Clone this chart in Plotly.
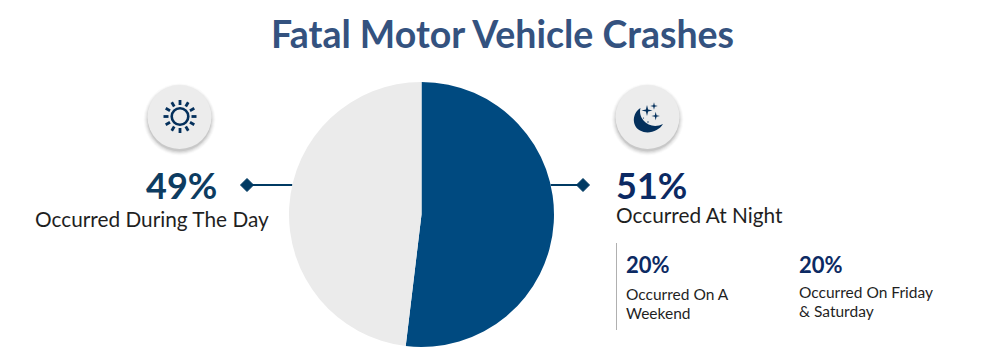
import math
import plotly.graph_objects as go

W, H = 1004, 358
FONT = "Lato"
TITLE = "Fatal Motor Vehicle Crashes"

# Pie values
slice_names = ["Night", "Day"]
slice_values = [51.9, 48.1]
slice_colors = ["#004a80", "#ebebeb"]

NAVY = "#003a63"
GLYPH = "#04305c"
INK = "#1f1f1f"

# text, x, y, size, bold, colour, anchor
labels = [
    (TITLE, 502, 33, 37.5, True, "#34527f", "center"),
    ("49%", 181, 185, 36, True, "#0d3c61", "center"),
    ("Occurred During The Day", 152, 218, 20.8, False, INK, "center"),
    ("51%", 615, 185, 36, True, "#0c2a63", "left"),
    ("Occurred At Night", 615, 214, 20.8, False, INK, "left"),
    ("20%", 625, 264, 22, True, "#0c2a63", "left"),
    ("Occurred On A", 625, 294, 15.5, False, INK, "left"),
    ("Weekend", 625, 313, 15.5, False, INK, "left"),
    ("20%", 798, 264, 22, True, "#0c2a63", "left"),
    ("Occurred On Friday", 798, 292, 15.5, False, INK, "left"),
    ("& Saturday", 798, 311, 15.5, False, INK, "left"),
]

fig = go.Figure()

fig.add_trace(go.Pie(
    labels=slice_names, values=slice_values, sort=False, direction="clockwise",
    rotation=0, marker=dict(colors=slice_colors, line=dict(width=0)),
    textinfo="none", hoverinfo="label+percent", showlegend=False,
    domain=dict(x=[289 / W, 554 / W], y=[(H - 347) / H, (H - 82) / H]),
))

# Connector leaders
for xs in ([292, 247], [551, 583]):
    fig.add_trace(go.Scatter(x=xs, y=[185, 185], mode="lines+markers",
        line=dict(color=NAVY, width=2), showlegend=False, hoverinfo="skip",
        marker=dict(symbol=["line-ew", "diamond"], size=[1, 10], color=NAVY,
                    opacity=1, line=dict(color=NAVY, width=1))))

shapes = []


def circle(cx, cy, r, fill, line=None, width=0, layer="above"):
    shapes.append(dict(type="circle", xref="x", yref="y", x0=cx - r, x1=cx + r,
                       y0=cy - r, y1=cy + r, fillcolor=fill, layer=layer,
                       line=dict(color=line, width=width) if line else dict(width=0)))


# Badges with soft shadow
for cx in (179.5, 647.5):
    for grow, alpha in ((4, 0.02), (3, 0.03), (2, 0.04), (1, 0.06), (0, 0.08)):
        circle(cx, 119.5, 32 + grow, f"rgba(0,0,0,{alpha})")
    circle(cx, 117, 32, "#ececec")

# Sun
SX, SY = 180, 116.5
circle(SX, SY, 8.3, "rgba(0,0,0,0)", GLYPH, 2.6)
for i in range(12):
    a = math.radians(i * 30)
    shapes.append(dict(type="line", xref="x", yref="y",
                       x0=SX + 11.5 * math.cos(a), y0=SY + 11.5 * math.sin(a),
                       x1=SX + 16.5 * math.cos(a), y1=SY + 16.5 * math.sin(a),
                       line=dict(color=GLYPH, width=2.8), layer="above"))

# Moon
shapes.append(dict(type="path", xref="x", yref="y", layer="above", line=dict(width=0),
    fillcolor=GLYPH,
    path="M 640.5 108 C 632 113 631.5 126 640 130.5 C 648 135 659 131 663 124 "
         "C 656 127.5 648 126 643.5 120.5 C 640 116 639.5 112 640.5 108 Z"))


def star(cx, cy, r):
    k = r * 0.2
    shapes.append(dict(type="path", xref="x", yref="y", layer="above", line=dict(width=0),
        fillcolor=GLYPH,
        path=f"M {cx} {cy - r} L {cx + k} {cy - k} L {cx + r} {cy} L {cx + k} {cy + k} "
             f"L {cx} {cy + r} L {cx - k} {cy + k} L {cx - r} {cy} L {cx - k} {cy - k} Z"))


star(647, 110.5, 5.5)
star(654, 106, 3.8)
star(655.7, 116, 4.2)
circle(648, 122, 0.7, GLYPH)
circle(643.5, 118, 0.6, GLYPH)

# Divider beside the sub-statistics
shapes.append(dict(type="line", xref="x", yref="y", x0=616.5, x1=616.5, y0=243, y1=330,
                   line=dict(color="#b0b0b0", width=1), layer="above"))

annotations = [
    dict(text=f"<b>{t}</b>" if bold else t, x=x, y=y, xref="x", yref="y", showarrow=False,
         xanchor=anchor, yanchor="middle", borderpad=0,
         font=dict(family=FONT, size=size, color=color))
    for t, x, y, size, bold, color, anchor in labels
]

axis = dict(visible=False, fixedrange=True)
fig.update_layout(
    width=W, height=H, margin=dict(l=0, r=0, t=0, b=0),
    paper_bgcolor="white", plot_bgcolor="rgba(0,0,0,0)", showlegend=False,
    xaxis=dict(range=[0, W], domain=[0, 1], **axis),
    yaxis=dict(range=[H, 0], domain=[0, 1], **axis),
    shapes=shapes, annotations=annotations,
)
fig.write_html("out.html", config=dict(displayModeBar=False),
               post_script="document.body.style.margin='0';document.body.style.overflow='hidden';")
